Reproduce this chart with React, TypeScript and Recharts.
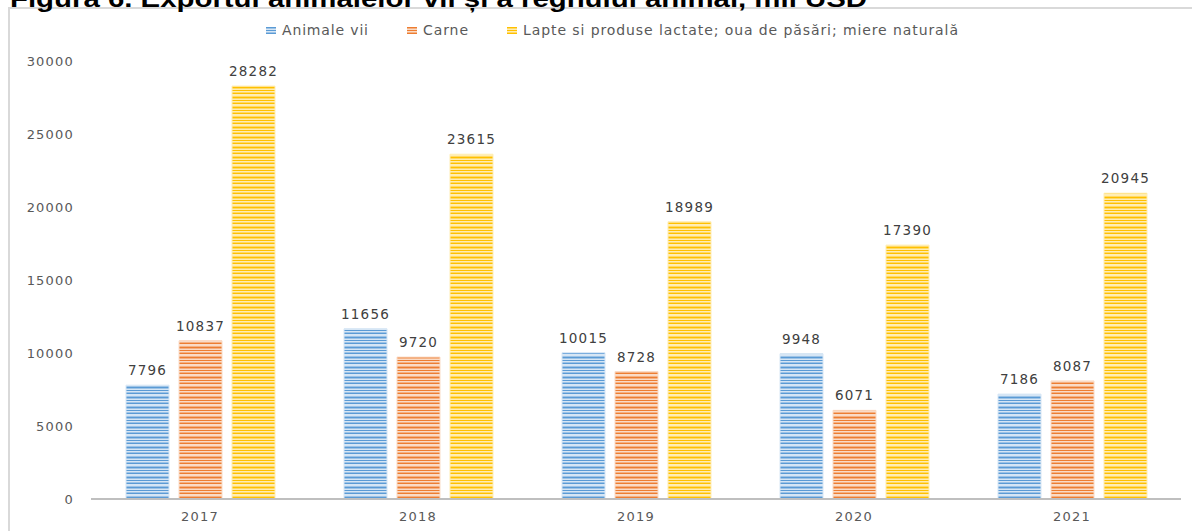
import { BarChart, Bar, XAxis, YAxis, LabelList } from 'recharts'

const years = ['2017', '2018', '2019', '2020', '2021']
const animaleVii = [7796, 11656, 10015, 9948, 7186]
const carne = [10837, 9720, 8728, 6071, 8087]
const lapte = [28282, 23615, 18989, 17390, 20945]
const yTicks = [0, 5000, 10000, 15000, 20000, 25000, 30000]

const SERIES = [
    { key: 'animale', name: 'Animale vii', base: '#5B9BD5', mid: '#9DC3E6', light: '#D6E6F5' },
    { key: 'carne', name: 'Carne', base: '#ED7D31', mid: '#F4B183', light: '#FADBC6' },
    { key: 'lapte', name: 'Lapte si produse lactate; oua de păsări; miere naturală', base: '#FFC000', mid: '#FFD966', light: '#FFEDB3' }
]

// legend placement (x of marker, width of text) as in the source figure
const LEGEND_X = [266, 407, 507]
const LEGEND_W = [86, 45, 435]

const data = years.map((y, i) => ({
    year: y,
    animale: animaleVii[i],
    carne: carne[i],
    lapte: lapte[i]
}))

const FONT = '"DejaVu Sans", sans-serif'

// horizontal stripe texture, roughly like the office gradient fill
function Stripes({ id, base, mid, light }: { id: string; base: string; mid: string; light: string }) {
    const rows = [base, light, mid, base, light, light, mid, base, mid, light]
    return (
        <pattern id={id} patternUnits="userSpaceOnUse" width={10} height={rows.length}>
            {rows.map((c, i) => <rect key={i} x={0} y={i} width={10} height={1} fill={c} />)}
        </pattern>
    )
}

export default function App() {
    return (
        <div style={{ position: 'absolute', left: 0, top: 0, width: 1192, height: 531, overflow: 'hidden', background: '#fff' }}>
            <div style={{
                position: 'absolute', left: 8, top: 7, width: 1200, height: 540,
                borderLeft: '2px solid #d9d9d9', borderTop: '2px solid #d9d9d9'
            }} />
            <BarChart
                width={1192}
                height={531}
                data={data}
                margin={{ top: 61, right: 11, left: 0, bottom: 0 }}
                barGap={10}
                barSize={43}
                style={{ position: 'absolute', left: 0, top: 0 }}
            >
                <defs>
                    {SERIES.map(s => <Stripes key={s.key} id={'fill-' + s.key} base={s.base} mid={s.mid} light={s.light} />)}
                </defs>
                <XAxis
                    dataKey="year"
                    height={32}
                    axisLine={{ stroke: '#bfbfbf', strokeWidth: 2 }}
                    tickLine={false}
                    tickSize={0}
                    tickMargin={13}
                    tick={{ fontSize: 13, fill: '#595959', fontFamily: FONT, letterSpacing: 1.2 }}
                />
                <YAxis
                    type="number"
                    domain={[0, 30000]}
                    ticks={yTicks}
                    width={91}
                    axisLine={false}
                    tickLine={false}
                    tickSize={0}
                    tickMargin={17}
                    tick={{ fontSize: 13, fill: '#595959', fontFamily: FONT, letterSpacing: 1.2 }}
                />
                {SERIES.map(s => (
                    <Bar
                        key={s.key}
                        dataKey={s.key}
                        name={s.name}
                        fill={`url(#fill-${s.key})`}
                        stroke={s.light}
                        strokeWidth={1}
                        isAnimationActive={false}
                    >
                        <LabelList
                            dataKey={s.key}
                            position="top"
                            offset={10}
                            style={{ fontSize: 13.5, fill: '#404040', fontFamily: FONT, letterSpacing: 1.2 }}
                        />
                    </Bar>
                ))}
            </BarChart>
            <svg width={1192} height={60} style={{ position: 'absolute', left: 0, top: 0 }}>
                <defs>
                    {SERIES.map(s => <Stripes key={s.key} id={'lg-' + s.key} base={s.base} mid={s.mid} light={s.light} />)}
                </defs>
                <text x={10} y={7} fontFamily='"Liberation Sans", Arial, sans-serif' fontWeight="bold" fontSize={23}
                    textLength={857} lengthAdjust="spacingAndGlyphs" fill="#000">
                    Figura 6. Exportul animalelor vii și a regnului animal, mil USD
                </text>
                {SERIES.map((s, i) => (
                    <g key={s.key}>
                        <rect x={LEGEND_X[i]} y={27} width={10} height={7} fill={`url(#lg-${s.key})`} />
                        <text x={LEGEND_X[i] + 16} y={35} fontFamily={FONT} fontSize={14} fill="#595959"
                            textLength={LEGEND_W[i]} lengthAdjust="spacing">
                            {s.name}
                        </text>
                    </g>
                ))}
            </svg>
        </div>
    )
}
